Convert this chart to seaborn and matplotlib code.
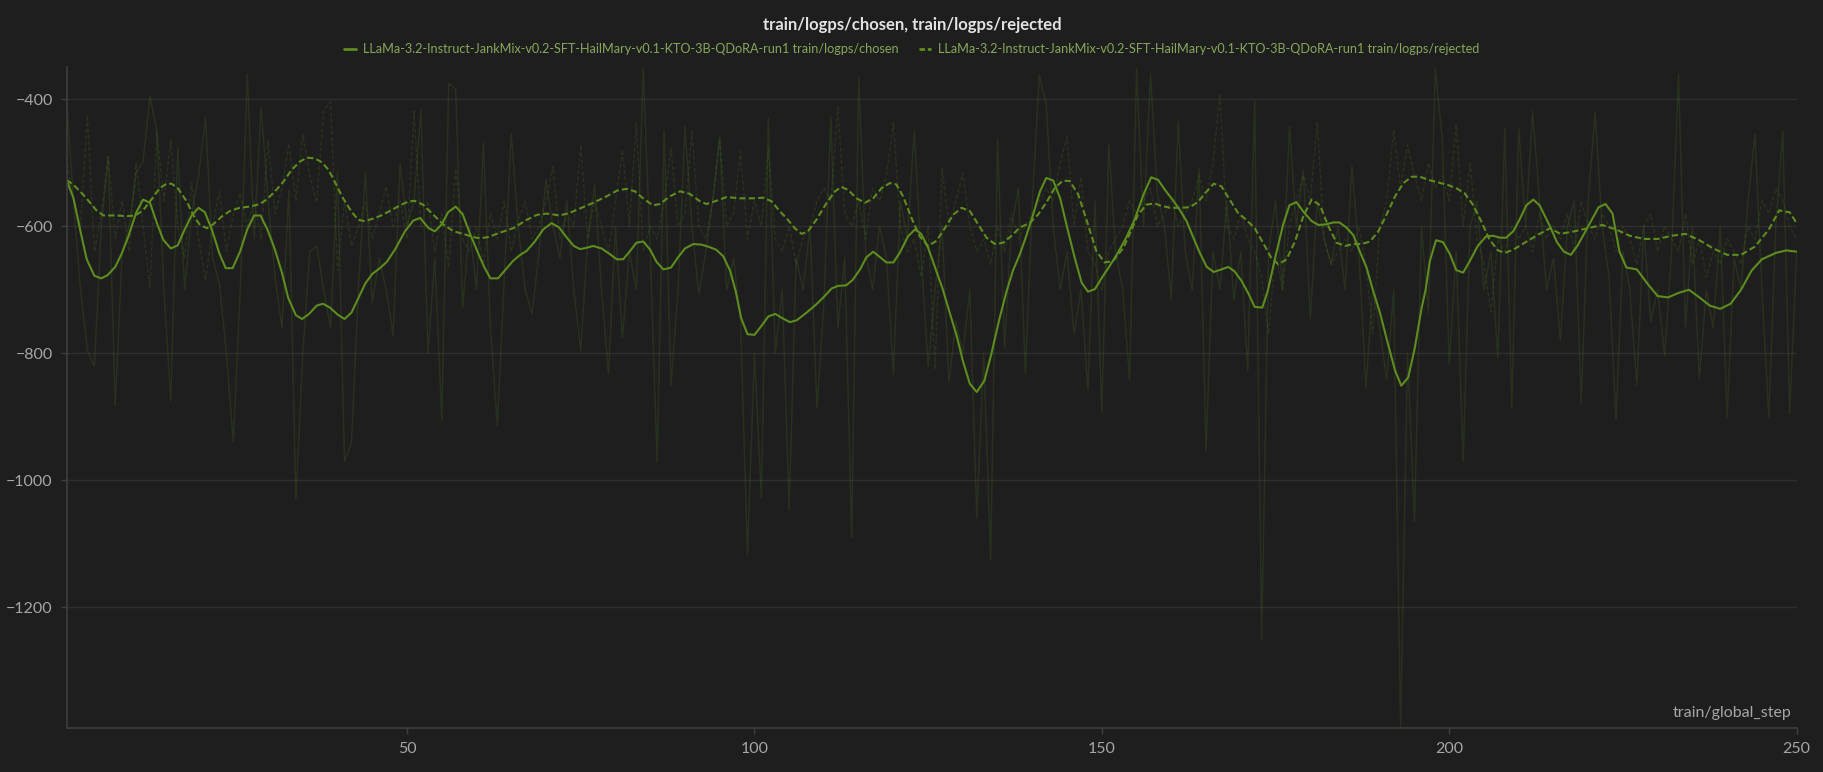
import numpy as np
import pandas as pd
import matplotlib
matplotlib.use("Agg")
import matplotlib.pyplot as plt
import seaborn as sns
from matplotlib.lines import Line2D

# smoothed curves (step, value)
chosen_smooth_x = [1, 2, 3, 3.9, 5, 6, 6.9, 8, 8.9, 9.9, 11, 12, 13, 14, 14.9, 16, 17, 18, 19, 20,
                   20.9, 21.9, 23, 23.9, 24.9, 26, 27, 28, 28.9, 29.9, 30.9, 32, 32.9, 34, 34.9, 35.9,
                   37, 37.9, 38.9, 40, 41, 42, 43, 44, 45, 46.1, 47.1, 48.3, 49.7, 50.9, 51.9, 53.1,
                   54, 55, 55.9, 57, 58, 59, 60.1, 61.1, 62, 63.1, 64.2, 65.3, 66.3, 67.2, 68.4, 69.6,
                   70.8, 71.9, 73, 74, 74.9, 75.8, 76.8, 78, 79.2, 80.2, 81.1, 82.1, 83, 84, 85, 85.9,
                   86.9, 88, 89, 90, 91.2, 92.4, 93.6, 94.5, 95.5, 96.5, 97.3, 98.1, 99, 100, 101, 102,
                   103, 103.9, 105.1, 106.1, 107.5, 108.9, 110.1, 111.1, 112, 113.2, 114.1, 115.2,
                   116.1, 117.1, 118.1, 119, 120, 120.9, 122.1, 123.1, 124, 125, 126, 127.1, 128.1,
                   129.1, 130, 131, 132, 133.1, 134.1, 135.3, 136.3, 137.2, 138.2, 139.1, 140.1, 141.1,
                   142, 143, 144, 144.9, 146.1, 147.1, 148, 149, 150, 151.1, 152.3, 153.5, 154.7, 156,
                   157.1, 158.1, 159.1, 160.3, 161.2, 162.2, 163.1, 164.1, 165.1, 166.1, 167.2, 168.2,
                   169.1, 170.1, 171.1, 172, 173.1, 173.9, 174.9, 176.1, 177, 178, 179, 180.2, 181.2,
                   182.3, 183.3, 184.2, 185.2, 186.2, 187.1, 188.1, 189, 190, 191.2, 192.2, 193.1,
                   194.1, 195, 196, 196.6, 197.2, 198.1, 199.1, 200.1, 201, 202, 203, 204.1, 205.3,
                   206.3, 207.3, 208.2, 209.2, 210.1, 211.1, 212.1, 213, 214.5, 215.5, 216.5, 217.5,
                   218.5, 220, 221.5, 222.5, 223.5, 224.5, 225.5, 227, 228.5, 230, 231.5, 233, 234.5,
                   236, 237.5, 239, 240.5, 242, 243.5, 245, 247, 248.5, 250]
chosen_smooth_y = [-527, -556, -608, -652, -678, -682, -677, -664, -644, -616, -579, -558, -563, -595,
                   -621, -635, -630, -605, -583, -571, -578, -605, -643, -666, -666, -639, -605, -583,
                   -583, -605, -634, -673, -713, -740, -746, -738, -725, -722, -728, -739, -746, -736,
                   -713, -690, -675, -666, -656, -636, -608, -591, -587, -603, -608, -597, -578, -569,
                   -581, -610, -639, -664, -682, -682, -668, -654, -645, -639, -624, -605, -595, -602,
                   -618, -631, -636, -634, -631, -635, -644, -652, -652, -639, -626, -624, -637, -656,
                   -668, -665, -649, -635, -628, -629, -633, -637, -647, -670, -702, -745, -770, -771,
                   -757, -742, -738, -744, -751, -748, -736, -723, -710, -698, -694, -693, -685, -668,
                   -649, -640, -649, -657, -657, -642, -616, -605, -612, -634, -665, -699, -736, -772,
                   -812, -848, -861, -843, -801, -744, -702, -670, -644, -616, -582, -545, -524, -528,
                   -556, -597, -650, -689, -703, -699, -681, -663, -642, -618, -590, -550, -523, -527,
                   -543, -560, -574, -592, -616, -642, -664, -672, -668, -664, -671, -686, -706, -727,
                   -728, -701, -652, -597, -567, -562, -577, -592, -598, -597, -594, -594, -602, -614,
                   -639, -665, -700, -735, -786, -827, -851, -838, -794, -730, -700, -655, -622, -625,
                   -644, -669, -673, -654, -631, -616, -615, -618, -618, -608, -590, -567, -558, -567,
                   -600, -625, -640, -645, -630, -600, -570, -565, -580, -640, -665, -668, -690, -710,
                   -712, -705, -700, -712, -725, -730, -722, -700, -670, -652, -642, -638, -640]

rejected_smooth_x = [1, 2, 3.2, 4.4, 5.3, 6.3, 8, 9.7, 10.9, 12, 13.2, 14.4, 15.4, 16.1, 17, 18.3, 19.3,
                     20.2, 21.2, 22.1, 23.3, 24.5, 25.9, 27.4, 28.8, 29.8, 31, 32.2, 33.4, 34.6, 35.6,
                     36.7, 37.7, 38.7, 39.6, 40.8, 42, 43, 43.9, 45.1, 46.3, 47.5, 49, 50.2, 51.1, 52.3,
                     53.8, 55.2, 56.7, 58.1, 59.5, 60.5, 61.7, 63.4, 65.3, 67.2, 68.7, 70.1, 72, 73.4,
                     74.9, 76.8, 78.7, 80.2, 81.6, 82.8, 84.2, 85.4, 86.4, 87.8, 89.3, 90.7, 92.2, 93.1,
                     94.5, 96, 97.9, 99.8, 101.3, 102.5, 103.7, 104.6, 105.8, 106.8, 107.7, 108.9, 110.4,
                     111.6, 112.5, 113.5, 114.7, 115.9, 117.1, 118.3, 119.5, 120.4, 121.4, 122.6, 123.8,
                     125, 126.2, 127.4, 128.6, 129.8, 131, 132.2, 133.4, 134.6, 135.8, 137, 138.2, 139.6,
                     140.8, 142, 143.2, 144.4, 145.4, 146.6, 148, 149.2, 150.4, 151.6, 153.1, 154.3,
                     155.2, 156.4, 157.6, 158.3, 159.8, 161.2, 162.7, 163.9, 165.1, 166.1, 167.2, 168.4,
                     169.6, 170.8, 172, 173.2, 174.4, 175.4, 176.6, 177.8, 179, 180.2, 181.4, 182.6,
                     183.8, 185, 186.2, 187.4, 188.6, 189.8, 191, 192.2, 193.4, 194.6, 195.8, 197, 198.4,
                     199.8, 201, 202.2, 203.4, 204.6, 205.8, 207, 208, 209.2, 210.4, 211.6, 213, 214.5,
                     216, 218, 220, 222, 224, 226, 228, 230, 232, 234, 236, 238, 240, 242, 244, 246,
                     247.5, 249, 250]
rejected_smooth_y = [-527, -535, -548, -563, -575, -583, -583, -584, -583, -575, -558, -540, -533, -533,
                     -540, -561, -584, -598, -603, -597, -585, -576, -571, -569, -565, -558, -545, -530,
                     -511, -498, -492, -493, -499, -511, -530, -556, -577, -590, -592, -588, -583, -576,
                     -567, -561, -560, -566, -582, -597, -608, -612, -617, -619, -617, -610, -603, -590,
                     -582, -580, -583, -579, -572, -563, -553, -544, -541, -545, -558, -567, -565, -553,
                     -545, -549, -561, -565, -560, -554, -556, -556, -555, -561, -577, -587, -603, -612,
                     -608, -590, -563, -545, -538, -543, -556, -563, -556, -540, -532, -534, -553, -587,
                     -616, -631, -623, -603, -582, -571, -576, -597, -618, -628, -626, -615, -602, -595,
                     -582, -563, -540, -528, -529, -550, -597, -639, -657, -655, -634, -605, -582, -566,
                     -564, -567, -571, -571, -570, -561, -545, -533, -537, -558, -579, -590, -603, -626,
                     -650, -660, -652, -624, -584, -558, -567, -600, -626, -631, -628, -628, -624, -608,
                     -581, -553, -532, -522, -522, -527, -531, -535, -540, -548, -566, -592, -621, -638,
                     -642, -637, -629, -621, -612, -603, -612, -608, -603, -598, -605, -615, -620, -620,
                     -615, -612, -622, -635, -645, -645, -632, -605, -575, -578, -595]

# raw (unsmoothed) values, one per step 1..250, estimated from the faint lines
steps = list(range(1, 251))
chosen_raw = [-400, -560, -700, -796, -821, -600, -490, -882, -640, -600,
              -516, -498, -395, -451, -700, -875, -476, -700, -580, -520,
              -428, -650, -690, -800, -940, -700, -361, -620, -412, -560,
              -680, -760, -543, -1030, -800, -640, -631, -700, -760, -513,
              -970, -941, -700, -515, -720, -650, -700, -772, -501, -600,
              -560, -416, -800, -650, -905, -375, -384, -728, -600, -700,
              -469, -760, -914, -680, -454, -600, -700, -738, -640, -527,
              -600, -650, -560, -700, -796, -620, -535, -700, -832, -600,
              -776, -640, -700, -351, -640, -971, -449, -851, -700, -443,
              -600, -707, -640, -560, -459, -700, -650, -750, -1117, -800,
              -1028, -430, -800, -700, -1047, -650, -700, -600, -886, -720,
              -428, -760, -650, -1091, -365, -640, -700, -600, -650, -834,
              -560, -620, -449, -650, -821, -700, -600, -846, -750, -800,
              -700, -1060, -800, -1125, -462, -792, -600, -540, -832, -560,
              -362, -409, -600, -700, -640, -770, -700, -858, -560, -894,
              -472, -640, -700, -842, -352, -600, -360, -550, -600, -715,
              -435, -640, -700, -509, -953, -640, -700, -560, -715, -640,
              -827, -403, -1251, -640, -560, -700, -443, -600, -511, -746,
              -560, -620, -660, -600, -700, -506, -640, -854, -700, -760,
              -842, -700, -1390, -800, -1065, -600, -736, -352, -464, -817,
              -640, -970, -600, -560, -700, -640, -807, -446, -885, -446,
              -600, -419, -560, -700, -650, -780, -600, -560, -880, -560,
              -420, -600, -680, -905, -640, -700, -850, -600, -750, -700,
              -805, -640, -360, -760, -600, -840, -700, -760, -600, -900,
              -650, -700, -560, -455, -700, -900, -600, -450, -895, -640]
rejected_raw = [-493, -560, -600, -425, -640, -580, -490, -620, -560, -640,
                -501, -600, -697, -451, -560, -464, -600, -650, -532, -620,
                -686, -600, -545, -640, -580, -548, -600, -560, -620, -464,
                -580, -540, -470, -560, -456, -520, -563, -417, -404, -670,
                -560, -631, -600, -563, -620, -580, -537, -600, -560, -620,
                -419, -600, -560, -640, -580, -665, -509, -620, -640, -600,
                -660, -580, -620, -560, -640, -590, -560, -620, -600, -560,
                -506, -620, -580, -600, -472, -620, -560, -600, -640, -560,
                -480, -600, -438, -639, -600, -620, -560, -477, -600, -580,
                -451, -600, -620, -560, -462, -600, -580, -482, -620, -560,
                -600, -480, -620, -640, -600, -660, -620, -600, -560, -540,
                -560, -412, -580, -600, -560, -620, -540, -560, -520, -437,
                -600, -640, -620, -680, -600, -825, -509, -600, -560, -516,
                -600, -640, -620, -660, -600, -640, -580, -620, -600, -580,
                -560, -540, -560, -500, -459, -600, -522, -640, -660, -700,
                -640, -620, -600, -560, -580, -560, -540, -600, -580, -560,
                -600, -580, -560, -520, -560, -500, -391, -600, -620, -580,
                -620, -640, -680, -770, -640, -700, -600, -560, -520, -560,
                -436, -620, -660, -640, -620, -640, -600, -660, -770, -600,
                -560, -449, -540, -472, -520, -560, -500, -540, -520, -560,
                -440, -600, -501, -620, -660, -735, -620, -640, -600, -620,
                -600, -640, -580, -620, -600, -620, -580, -640, -560, -600,
                -620, -580, -600, -640, -600, -620, -660, -600, -580, -640,
                -600, -620, -640, -580, -660, -620, -680, -640, -660, -620,
                -640, -660, -600, -620, -560, -580, -540, -560, -600, -620]

run_name = "LLaMa-3.2-Instruct-JankMix-v0.2-SFT-HailMary-v0.1-KTO-3B-QDoRA-run1"
label_chosen = run_name + " train/logps/chosen"
label_rejected = run_name + " train/logps/rejected"

raw_df = pd.DataFrame({"step": steps, "chosen": chosen_raw, "rejected": rejected_raw})
chosen_df = pd.DataFrame({"step": chosen_smooth_x, "value": chosen_smooth_y})
rejected_df = pd.DataFrame({"step": rejected_smooth_x, "value": rejected_smooth_y})

bg = "#1e1e1e"
green = "#5e8c1f"
sns.set_theme(style="dark")
plt.rcParams["font.family"] = ["Lato", "DejaVu Sans"]

fig = plt.figure(figsize=(18.24, 7.72), dpi=100, facecolor=bg)
ax = fig.add_axes([0.0365, 0.057, 0.9485, 0.8556])
ax.set_facecolor(bg)

# faint raw lines
sns.lineplot(data=raw_df, x="step", y="chosen", ax=ax, color=green, alpha=0.18, linewidth=1.0,
             estimator=None, legend=False)
sns.lineplot(data=raw_df, x="step", y="rejected", ax=ax, color=green, alpha=0.18, linewidth=1.0,
             estimator=None, legend=False, linestyle=(0, (3, 1.5)))

# smoothed lines
sns.lineplot(data=chosen_df, x="step", y="value", ax=ax, color=green, linewidth=1.5,
             estimator=None, sort=False, legend=False)
sns.lineplot(data=rejected_df, x="step", y="value", ax=ax, color=green, linewidth=1.5,
             estimator=None, sort=False, legend=False, linestyle=(0, (3, 1.5)))

ax.set_xlim(1, 250)
ax.set_ylim(-1390, -350)
ax.set_xticks([50, 100, 150, 200, 250])
ax.set_yticks([-400, -600, -800, -1000, -1200])
ax.set_xlabel("")
ax.set_ylabel("")
ax.grid(axis="y", color="#2e2e2e", linewidth=1)
ax.grid(axis="x", visible=False)
for side in ["top", "right"]:
    ax.spines[side].set_visible(False)
for side in ["left", "bottom"]:
    ax.spines[side].set_color("#3e3e3e")
    ax.spines[side].set_linewidth(1.2)
ax.tick_params(axis="both", colors="#3e3e3e", labelcolor="#a6a6a6", labelsize=11.5,
               length=4, width=1, pad=6, left=True, bottom=True)

ax.text(0.997, 0.012, "train/global_step", transform=ax.transAxes, ha="right", va="bottom",
        color="#a6a6a6", fontsize=11.5)

fig.text(0.5, 1 - 25 / 772, "train/logps/chosen, train/logps/rejected", ha="center", va="center",
         color="#e2e2e2", fontsize=12, fontweight="bold")

handles = [Line2D([], [], color=green, linewidth=2),
           Line2D([], [], color=green, linewidth=2, linestyle=(0, (2, 1)))]
leg = fig.legend(handles, [label_chosen, label_rejected], loc="center",
                 bbox_to_anchor=(0.5, 1 - 49 / 772), ncol=2, frameon=False, fontsize=9.1,
                 handlelength=0.9, handletextpad=0.6, columnspacing=1.6)
for t in leg.get_texts():
    t.set_color("#86a85a")

fig.savefig("out.png", dpi=100, facecolor=bg)
